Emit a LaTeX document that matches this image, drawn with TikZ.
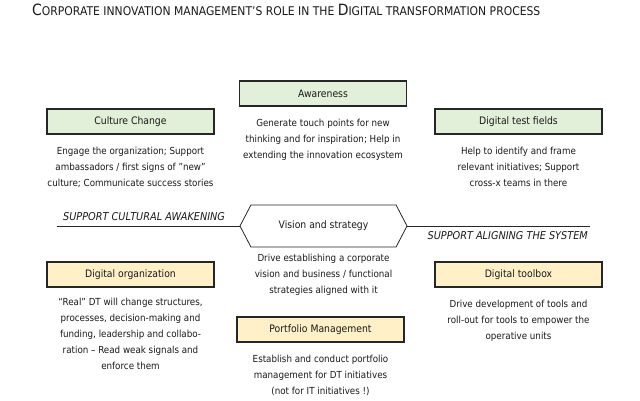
\documentclass[tikz,border=0pt]{standalone}
\usepackage{fontspec}
\setmainfont{DejaVu Sans}[FakeStretch=0.9]
\usetikzlibrary{positioning,shapes.symbols}
\definecolor{boxgreen}{HTML}{E2F0D9}
\definecolor{boxtan}{HTML}{FFF0C8}
\definecolor{edge}{HTML}{262626}
\newcommand\capl[1]{{\fontsize{15.5}{17}\selectfont #1}}
\begin{document}
\begin{tikzpicture}[x=1pt,y=-1pt,font=\fontsize{9.7}{16}\selectfont,text=black!90,
  green box/.style={draw=edge,line width=1.6pt,fill=boxgreen,minimum width=167pt,minimum height=25pt,inner sep=0pt,font=\fontsize{10.3}{12}\selectfont},
  tan box/.style={green box,fill=boxtan},
  desc/.style={align=center,inner sep=0pt},
  side text/.style={font=\fontsize{10.8}{12}\selectfont\itshape,inner sep=0pt}]
  \useasboundingbox (0,0) rectangle (640,400);
  \node[anchor=west,inner sep=0pt,font=\fontsize{12}{14}\selectfont] (title) at (32,10) {\capl{C}ORPORATE INNOVATION MANAGEMENT’S ROLE IN THE \capl{D}IGITAL TRANSFORMATION PROCESS};
  \node[green box] (aware) at (323,93.5) {Awareness};
  \node[green box] (culture) at (130.5,121.5) {Culture Change};
  \node[green box] (test) at (518.5,121.5) {Digital test fields};
  \node[signal,signal to=east and west,signal pointer angle=125,draw=edge,line width=0.8pt,minimum width=167pt,minimum height=42pt,inner sep=0pt,font=\fontsize{10.3}{12}\selectfont] (vision) at (323.5,226) {Vision and strategy};
  \node[tan box] (org) at (130.5,274.5) {Digital organization};
  \node[tan box] (tool) at (518.5,274.5) {Digital toolbox};
  \node[tan box] (port) at (320.5,329.5) {Portfolio Management};
  \node[desc,below=12pt of aware] (aware text) {Generate touch points for new\\thinking and for inspiration; Help in\\extending the innovation ecosystem};
  \node[desc,below=12pt of culture] (culture text) {Engage the organization; Support\\ambassadors / first signs of "new"\\culture; Communicate success stories};
  \node[desc,below=12pt of test] (test text) {Help to identify and frame\\relevant initiatives; Support\\cross-x teams in there};
  \node[desc,below=7pt of vision] (vision text) {Drive establishing a corporate\\vision and business / functional\\strategies aligned with it};
  \node[desc,below=10pt of org] (org text) {“Real” DT will change structures,\\processes, decision-making and\\funding, leadership and collabo-\\ration – Read weak signals and\\enforce them};
  \node[desc,below=12pt of tool] (tool text) {Drive development of tools and\\roll-out for tools to empower the\\operative units};
  \node[desc,below=12pt of port] (port text) {Establish and conduct portfolio\\management for DT initiatives\\(not for IT initiatives !)};
  \coordinate (lend) at (57,226);
  \coordinate (rend) at (590,226);
  \draw[edge,line width=0.8pt] (lend) -- (vision.west);
  \draw[edge,line width=0.8pt] (vision.east) -- (rend);
  \node[side text,anchor=south west] (cultural) at (63,221) {SUPPORT CULTURAL AWAKENING};
  \node[side text,anchor=north east] (aligning) at (588,231) {SUPPORT ALIGNING THE SYSTEM};
\end{tikzpicture}
\end{document}
